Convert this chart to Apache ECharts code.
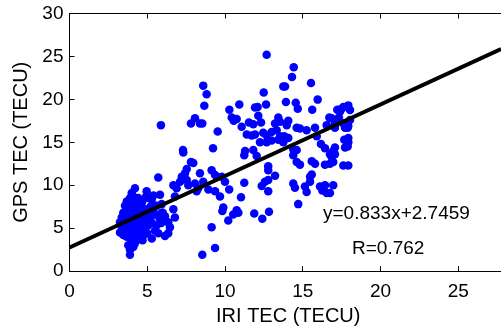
<!DOCTYPE html>
<html>
<head>
<meta charset="utf-8">
<script src="https://cdn.jsdelivr.net/npm/echarts@6/dist/echarts.min.js"></script>
<style>html,body{margin:0;padding:0;background:#fff;}#c{width:501px;height:331px;}</style>
</head>
<body>
<div id="c"></div>
<script>
// Data: [IRI TEC, GPS TEC]
const upperMid = [[8.60,21.6],[8.82,20.6],[8.67,19.25],[10.28,18.8],[10.43,17.9],[10.56,17.5],[5.88,17.0],[7.81,17.2],[8.07,17.8],[8.39,17.2],[8.54,17.2],[9.53,16.25],[7.30,14.1],[9.23,14.3]];
const upperRight = [[12.68,25.2],[14.42,23.75],[14.31,22.6],[15.53,21.9],[13.75,21.5],[13.86,21.5],[12.49,20.8],[15.96,19.97],[10.92,19.4],[12.64,19.4],[11.93,19.06],[12.10,19.1],[13.92,19.7],[14.55,19.6],[14.68,18.9],[15.61,18.8],[17.22,18.8],[17.50,18.9],[17.89,19.2],[12.14,18.1],[16.71,17.9],[17.33,17.9],[10.75,17.7],[11.54,17.3],[11.82,17.1],[11.07,16.8],[12.32,17.3],[13.43,17.9],[13.54,17.4],[14.07,17.5],[13.97,17.0],[13.22,17.2],[14.61,16.7],[14.82,16.6],[15.25,16.4],[15.79,16.7],[16.54,17.0],[17.07,17.1],[17.61,17.2],[18.04,17.6],[17.89,16.7],[11.40,15.9],[11.72,15.8],[11.93,15.9],[12.46,16.1],[12.68,15.8],[13.00,16.2],[13.32,16.4],[13.54,15.7],[13.81,15.7],[14.07,15.5],[13.43,15.3],[12.25,15.0],[12.68,15.0],[13.00,15.2],[13.75,15.0],[15.90,15.7],[16.17,14.8],[16.43,14.3],[17.07,14.4],[17.67,15.3],[17.89,14.5],[17.93,15.5],[11.29,14.0],[11.82,14.1],[14.39,14.2],[14.61,14.1]];
const rightEdge = [[17.61,19.1],[17.93,19.3],[18.04,18.75],[17.40,18.6],[16.86,17.8],[17.18,17.4],[17.72,17.2],[17.93,16.9],[17.72,16.7],[17.07,16.7],[17.93,15.0],[17.72,14.4],[16.96,14.0],[17.07,13.6],[16.86,13.3],[16.96,12.7],[16.75,12.5],[17.61,12.3],[17.93,12.3],[16.96,10.0],[16.75,9.1]];
const lowerRight = [[11.24,13.5],[12.04,13.4],[12.78,12.2],[12.78,11.75],[13.22,11.1],[12.78,10.6],[12.57,10.4],[12.36,9.9],[12.78,9.3],[11.24,10.3],[11.03,8.6],[10.75,7.1],[10.86,6.8],[11.88,6.7],[12.40,6.1],[12.83,6.9],[14.39,13.5],[14.61,12.7],[14.82,12.4],[15.58,12.8],[15.79,12.5],[16.43,12.4],[16.75,13.6],[14.39,10.2],[14.50,9.7],[15.14,9.85],[15.25,9.2],[15.47,11.0],[15.58,11.25],[15.47,10.4],[16.11,9.85],[16.26,9.4],[16.43,10.0],[16.54,9.1],[14.71,7.8]];
const lowerMid = [[7.32,13.8],[7.81,12.7],[7.96,12.6],[7.54,11.9],[7.43,11.4],[7.22,11.0],[7.11,10.4],[7.54,10.6],[7.64,10.0],[8.07,10.2],[8.39,11.4],[8.60,10.4],[9.14,11.75],[9.36,11.2],[10.0,10.4],[9.79,11.0],[5.71,10.9],[6.68,10.0],[6.89,9.66],[6.78,8.7],[8.18,9.3],[8.28,9.66],[8.93,9.5],[9.36,9.3],[9.68,8.7],[10.27,9.5],[9.89,7.4],[9.83,7.0],[10.21,5.9],[10.53,6.6],[9.14,5.1],[9.36,2.7],[8.54,1.9],[6.68,7.2],[6.78,6.25]];
const leftCluster = [[4.21,9.66],[4.0,9.1],[3.89,8.5],[3.68,8.1],[3.57,7.6],[3.46,6.8],[3.36,6.25],[3.25,5.7],[4.96,9.3],[5.07,8.5],[5.29,8.3],[5.82,8.9],[5.93,7.8],[4.42,8.5],[4.64,7.95],[4.42,7.6],[4.86,7.2],[5.18,6.8],[5.50,6.6],[5.93,6.8],[6.14,6.4],[6.35,5.7],[6.46,5.1],[6.35,4.4],[6.14,4.1],[5.71,4.4],[5.50,4.7],[5.29,3.8],[5.07,5.3],[4.75,5.1],[4.53,5.9],[4.21,6.25],[4.0,5.9],[3.78,5.1],[3.89,4.5],[3.68,4.0],[4.0,3.6],[4.32,3.6],[3.78,3.0],[3.89,2.5],[3.89,1.9],[3.46,4.2],[3.25,4.5],[3.36,5.1]];
const leftClusterCore = [[3.5,5.5],[3.6,6.0],[3.7,6.5],[3.8,7.0],[3.9,7.5],[4.0,8.0],[4.1,8.7],[3.7,4.8],[3.8,5.5],[3.9,6.0],[4.0,6.6],[4.1,7.2],[4.2,7.8],[4.3,8.3],[3.9,4.2],[4.0,4.8],[4.1,5.4],[4.2,5.0],[4.3,5.6],[4.4,6.2],[4.5,6.8],[4.6,7.3],[4.7,8.2],[4.2,3.2],[4.1,2.8],[4.3,4.4],[4.5,4.8],[4.6,5.5],[4.8,5.8],[4.9,6.4],[5.0,7.0],[5.2,7.5],[5.4,7.2],[5.6,7.6],[5.8,6.1],[5.3,5.6],[5.6,5.3],[5.9,5.6],[6.0,6.8],[4.8,4.3],[5.0,4.4],[4.7,3.6],[4.4,3.9],[3.6,5.2],[4.9,8.6],[5.4,8.8],[5.2,6.2]];
const fitLineX = [0, 27.75];
const fitLineY = [2.7459, 25.86];
const fitLabel = 'y=0.833x+2.7459';
const rLabel = 'R=0.762';
const xTitle = 'IRI TEC (TECU)';
const yTitle = 'GPS TEC (TECU)';

const allPoints = [].concat(upperMid, upperRight, rightEdge, lowerRight, lowerMid, leftCluster, leftClusterCore);
const FONT = "'Liberation Sans', Arial, sans-serif";
const tickFmt = v => (Math.abs(v % 5) < 1e-9 ? String(v) : '');

const chart = echarts.init(document.getElementById('c'));
chart.setOption({
  animation: false,
  backgroundColor: '#fff',
  grid: { left: 69.5, top: 13.5, right: 0, bottom: 54.3, containLabel: false },
  xAxis: [{
    type: 'value', min: 0, max: 27.75, interval: 5, position: 'bottom',
    name: xTitle, nameLocation: 'middle', nameGap: 28,
    nameTextStyle: { color: '#000', fontSize: 20, fontFamily: FONT, padding: [0, 0, 0, 6] },
    axisLine: { show: true, onZero: false, lineStyle: { color: '#000', width: 1 } },
    axisTick: { show: true, inside: true, length: 5, lineStyle: { color: '#000' } },
    axisLabel: { color: '#000', fontSize: 19, fontFamily: FONT, margin: 11, formatter: tickFmt, showMaxLabel: false },
    splitLine: { show: false }
  }, {
    type: 'value', min: 0, max: 27.75, interval: 5, position: 'top',
    axisLine: { show: true, onZero: false, lineStyle: { color: '#000', width: 1 } },
    axisTick: { show: true, inside: true, length: 5, lineStyle: { color: '#000' } },
    axisLabel: { show: false },
    splitLine: { show: false }
  }],
  yAxis: [{
    type: 'value', min: 0, max: 30, interval: 5,
    name: yTitle, nameLocation: 'middle', nameGap: 32,
    nameTextStyle: { color: '#000', fontSize: 20, fontFamily: FONT },
    axisLine: { show: true, onZero: false, lineStyle: { color: '#000', width: 1 } },
    axisTick: { show: true, inside: true, length: 5, lineStyle: { color: '#000' } },
    axisLabel: { color: '#000', fontSize: 19, fontFamily: FONT, margin: 6 },
    splitLine: { show: false }
  }],
  series: [{
    type: 'scatter', data: allPoints, symbol: 'circle', symbolSize: 8.5,
    itemStyle: { color: '#0000ff', opacity: 1 }, z: 2, silent: true
  }, {
    type: 'line', data: fitLineX.map((x, i) => [x, fitLineY[i]]),
    symbol: 'none', lineStyle: { color: '#000', width: 4 }, z: 3, silent: true
  }],
  graphic: [{
    type: 'text', left: 323, top: 204,
    style: { text: fitLabel, fill: '#000', font: "19px 'Liberation Sans', Arial, sans-serif" }
  }, {
    type: 'text', left: 352, top: 239,
    style: { text: rLabel, fill: '#000', font: "19px 'Liberation Sans', Arial, sans-serif" }
  }]
});
</script>
</body>
</html>
